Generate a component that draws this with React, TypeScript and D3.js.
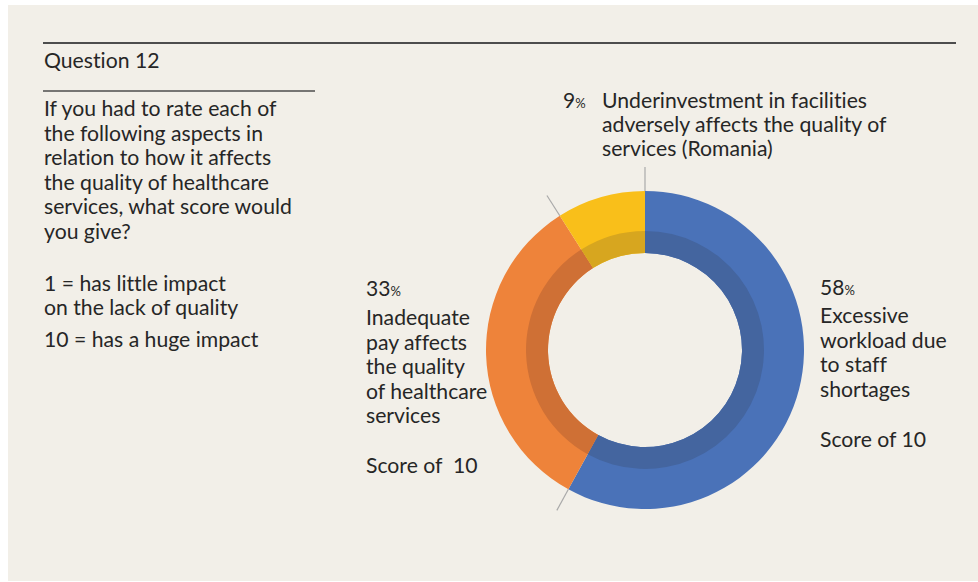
import React from "react";
import * as d3 from "d3";

const categories = [
  "Excessive workload due to staff shortages",
  "Inadequate pay affects the quality of healthcare services",
  "Underinvestment in facilities adversely affects the quality of services (Romania)",
];
const values = [58, 33, 9];
const outerColors = ["#4A72B8", "#EE833A", "#F9BF1A"];
const innerColors = ["#44659F", "#CF7035", "#D7A61F"];

const questionTitle = "Question 12";
const questionLines = [
  "If you had to rate each of",
  "the following aspects in",
  "relation to how it affects",
  "the quality of healthcare",
  "services, what score would",
  "you give?",
];
const scaleLines = ["1 = has little impact", "on the lack of quality"];
const scaleLine2 = "10 = has a huge impact";

const labelBlue = ["Excessive", "workload due", "to staff", "shortages"];
const labelOrange = ["Inadequate", "pay affects", "the quality", "of healthcare", "services"];
const labelYellow = ["Underinvestment in facilities", "adversely affects the quality of", "services (Romania)"];
const scoreBlue = "Score of 10";
const scoreOrange = "Score of  10";

const W = 978;
const H = 582;
const FONT = "Lato, Roboto, sans-serif";
const FS = 21.2;
const TXT = "#262626";

export default function App() {
  const cx = 645;
  const cy = 350;
  const rOuter = 159;
  const rInner = 97;
  const rBand = 119;
  const rLead = 183;

  const pie = d3
    .pie<number>()
    .sort(null)
    .value((d) => d);
  const arcs = pie(values);
  const outerArc = d3.arc<d3.PieArcDatum<number>>().innerRadius(rInner).outerRadius(rOuter);
  const bandArc = d3.arc<d3.PieArcDatum<number>>().innerRadius(rInner).outerRadius(rBand);

  const boundaries = arcs.map((a) => a.startAngle);

  const T = (props: { x: number; y: number; children: React.ReactNode }) => (
    <text
      x={props.x}
      y={props.y}
      fontFamily={FONT}
      fontSize={FS}
      fill={TXT}
      style={{ whiteSpace: "pre", fontVariantLigatures: "none" }}
    >
      {props.children}
    </text>
  );

  const pct = (v: number, x: number, y: number) => (
    <text x={x} y={y} fontFamily={FONT} fill={TXT}>
      <tspan fontSize={21}>{v}</tspan>
      <tspan fontSize={13}>%</tspan>
    </text>
  );

  return (
    <svg
      width={W}
      height={H}
      style={{ position: "absolute", left: 0, top: 0, background: "#ffffff" }}
    >
      <rect x={8} y={5} width={W - 8} height={H - 6} fill="#F2EFE8" />
      <line x1={43} x2={956} y1={43} y2={43} stroke="#4d4d4d" strokeWidth={2} />
      <T x={44} y={68}>{questionTitle}</T>
      <line x1={43} x2={315} y1={91} y2={91} stroke="#4d4d4d" strokeWidth={1.5} />
      {questionLines.map((l, i) => (
        <T key={i} x={44} y={116 + i * 24.5}>
          {l}
        </T>
      ))}
      {scaleLines.map((l, i) => (
        <T key={"s" + i} x={44} y={291 + i * 24}>
          {l}
        </T>
      ))}
      <T x={44} y={347}>{scaleLine2}</T>

      <g transform={`translate(${cx},${cy})`}>
        {arcs.map((a, i) => (
          <path key={"o" + i} d={outerArc(a) || ""} fill={outerColors[i]} />
        ))}
        {arcs.map((a, i) => (
          <path key={"b" + i} d={bandArc(a) || ""} fill={innerColors[i]} />
        ))}
        {boundaries.map((ang, i) => (
          <line
            key={"l" + i}
            x1={Math.sin(ang) * rOuter}
            y1={-Math.cos(ang) * rOuter}
            x2={Math.sin(ang) * rLead}
            y2={-Math.cos(ang) * rLead}
            stroke="#a9a9a9"
            strokeWidth={1.2}
          />
        ))}
      </g>

      {pct(values[2], 563, 108)}
      {labelYellow.map((l, i) => (
        <T key={"y" + i} x={602} y={108 + i * 24}>
          {l}
        </T>
      ))}

      {pct(values[1], 366, 296)}
      {labelOrange.map((l, i) => (
        <T key={"r" + i} x={366} y={325 + i * 24.5}>
          {l}
        </T>
      ))}
      <T x={366} y={473}>{scoreOrange}</T>

      {pct(values[0], 820, 295)}
      {labelBlue.map((l, i) => (
        <T key={"b" + i} x={820} y={323 + i * 24.5}>
          {l}
        </T>
      ))}
      <T x={820} y={447}>{scoreBlue}</T>
    </svg>
  );
}
